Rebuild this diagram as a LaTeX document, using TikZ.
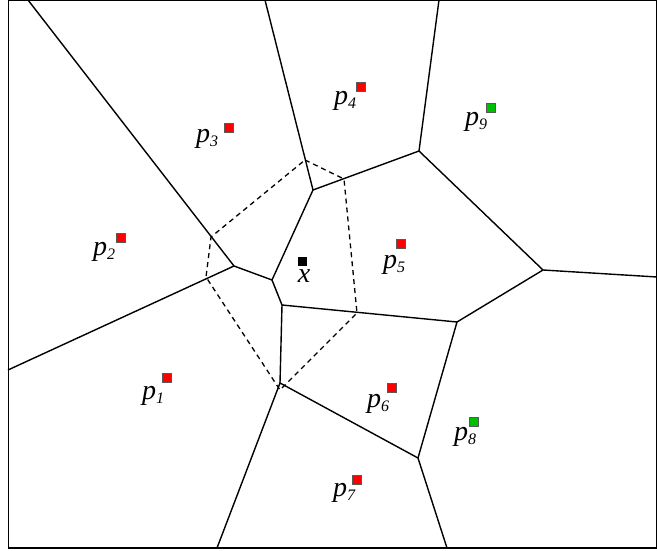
\documentclass[tikz,border=0pt]{standalone}
\usepackage{fontspec}
\setmainfont{Liberation Serif}
\newcommand{\plab}[1]{{\fontsize{28}{32}\selectfont\itshape p}\raisebox{-0.3ex}{\fontsize{16}{17}\selectfont\itshape #1}}
\begin{document}
\begin{tikzpicture}[x=1pt,y=-1pt,
  edge/.style={line width=1.4pt},
  dual/.style={line width=1.3pt,dash pattern=on 5pt off 4pt},
  redsite/.style={draw=black!65,line width=1.2pt,fill=red,minimum size=8.5pt,inner sep=0pt},
  greensite/.style={draw=black!65,line width=1.2pt,fill=green!75!black,minimum size=8.5pt,inner sep=0pt},
  blacksite/.style={draw=black,fill=black,minimum size=8pt,inner sep=0pt},
  lbl/.style={inner sep=0pt,font=\fontsize{28}{32}\selectfont\itshape}]
\useasboundingbox (0,0) rectangle (657,551);
\fill[white] (0,0) rectangle (657,551);
\draw[line width=1.3pt] (8.5,0) rectangle (657,548);

% Voronoi vertices
\coordinate (V1) at (234,266);
\coordinate (V2) at (272,280);
\coordinate (V3) at (313,190);
\coordinate (V4) at (419,151);
\coordinate (V5) at (543,270);
\coordinate (V6) at (457,322);
\coordinate (V7) at (418,458);
\coordinate (V8) at (280,383);
\coordinate (V9) at (282,305);
% border ends
\coordinate (B1) at (28,0);
\coordinate (B2) at (8,370);
\coordinate (B3) at (265,0);
\coordinate (B4) at (439,0);
\coordinate (B5) at (657,277);
\coordinate (B6) at (447,548);
\coordinate (B7) at (217,548);

\draw[edge] (B1) -- (V1) -- (B2);
\draw[edge] (V1) -- (V2) -- (V3) -- (B3);
\draw[edge] (V3) -- (V4) -- (B4);
\draw[edge] (V4) -- (V5) -- (B5);
\draw[edge] (V5) -- (V6) -- (V7) -- (B6);
\draw[edge] (V7) -- (V8) -- (B7);
\draw[edge] (V8) -- (V9) -- (V2);
\draw[edge] (V9) -- (V6);

% dashed cell
\coordinate (D1) at (305,160);
\coordinate (D2) at (344,179);
\coordinate (D3) at (357,313);
\coordinate (D4) at (280,390);
\coordinate (D5) at (206,277);
\coordinate (D6) at (211,237);
\draw[dual] (D1) -- (D2) -- (D3) -- (D4) -- (D5) -- (D6) -- cycle;

% sites
\node[redsite] (s1) at (167,378) {};
\node[redsite] (s2) at (121,238) {};
\node[redsite] (s3) at (229,128) {};
\node[redsite] (s4) at (361,87) {};
\node[redsite] (s5) at (401,244) {};
\node[redsite] (s6) at (392,388) {};
\node[redsite] (s7) at (357,480) {};
\node[greensite] (s8) at (474,422) {};
\node[greensite] (s9) at (491,108) {};
\node[blacksite] (sx) at (302,261) {};

% labels
\node[lbl] (l1) at (153,396) {\plab{1}};
\node[lbl] (l2) at (104,252) {\plab{2}};
\node[lbl] (l3) at (207,139) {\plab{3}};
\node[lbl] (l4) at (345,101) {\plab{4}};
\node[lbl] (l5) at (394,265) {\plab{5}};
\node[lbl] (l6) at (378,404) {\plab{6}};
\node[lbl] (l7) at (344,493) {\plab{7}};
\node[lbl] (l8) at (465,437) {\plab{8}};
\node[lbl] (l9) at (476,122) {\plab{9}};
\node[lbl] (lx) at (304,276) {x};
\end{tikzpicture}
\end{document}
